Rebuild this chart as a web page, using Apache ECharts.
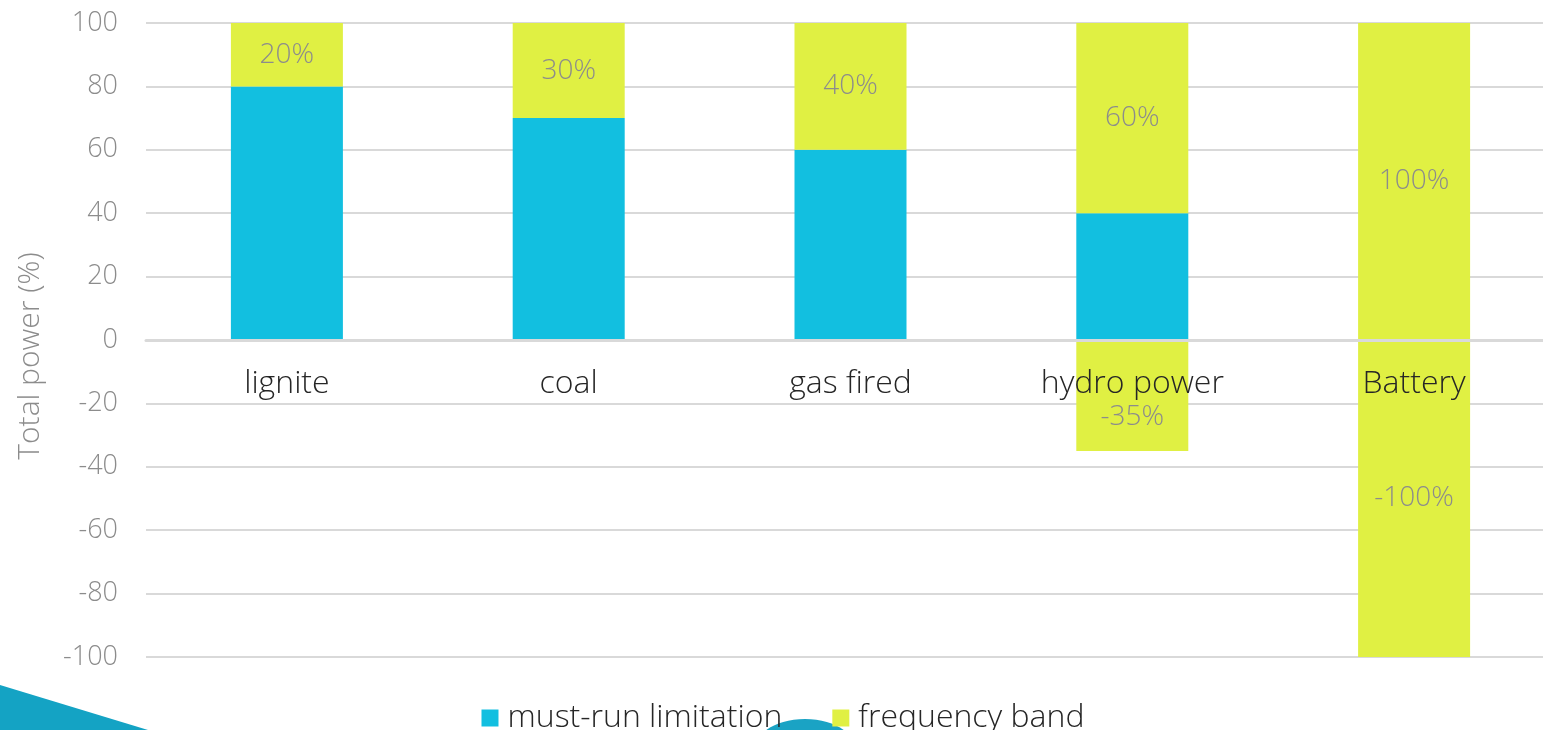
<!DOCTYPE html>
<html>
<head>
<meta charset="utf-8">
<script src="https://cdn.jsdelivr.net/npm/echarts@6/dist/echarts.min.js"></script>
<style>
html,body{margin:0;padding:0;background:#fff;overflow:hidden;}
#c{width:1566px;height:730px;}
</style>
</head>
<body>
<div id="c"></div>
<script>
const categories = ['lignite', 'coal', 'gas fired', 'hydro power', 'Battery'];
const mustRun = [80, 70, 60, 40, null];
const freqBandUp = [20, 30, 40, 60, 100];
const freqBandDown = [null, null, null, -35, -100];
const yTicks = {min: -100, max: 100, interval: 20};

const FONT = "'Open Sans', 'Lato', sans-serif";
const CYAN = '#12BFE0';
const LIME = '#E0F043';
const labelStyle = {
  show: true, position: 'inside', color: '#8c8c8c', fontSize: 28,
  fontFamily: FONT, fontWeight: 300,
  formatter: p => p.value + '%'
};

const chart = echarts.init(document.getElementById('c'), null, {renderer: 'canvas'});
chart.setOption({
  animation: false,
  backgroundColor: '#fff',
  textStyle: {fontFamily: FONT},
  graphic: [
    {type: 'polygon', z: -10, shape: {points: [[0, 685], [148, 730], [0, 730]]},
     style: {fill: '#14A3C4'}},
    {type: 'ellipse', z: -10, shape: {cx: 805, cy: 749, rx: 50, ry: 30},
     style: {fill: '#1AA3C4'}}
  ],
  grid: {left: 146, top: 23, right: 11, bottom: 73, containLabel: false},
  legend: {
    top: 697, left: 'center', itemWidth: 17, itemHeight: 17, itemGap: 50,
    icon: 'rect',
    textStyle: {fontSize: 32, color: '#262626', fontFamily: FONT, fontWeight: 300,
                padding: [0, 0, 0, 4]},
    data: ['must-run limitation', 'frequency band']
  },
  xAxis: {
    type: 'category', data: categories, z: 10,
    axisLine: {onZero: true, lineStyle: {color: '#d9d9d9', width: 3}},
    axisTick: {show: false},
    axisLabel: {color: '#262626', fontSize: 32, fontFamily: FONT, fontWeight: 300, margin: -289}
  },
  yAxis: {
    type: 'value', min: yTicks.min, max: yTicks.max, interval: yTicks.interval,
    name: 'Total power (%)', nameLocation: 'middle', nameGap: 101, nameRotate: 90,
    nameTextStyle: {color: '#8c8c8c', fontSize: 30, fontFamily: FONT, fontWeight: 300,
                    padding: [0, 32, 0, 0]},
    axisLine: {show: false}, axisTick: {show: false},
    axisLabel: {color: '#8c8c8c', fontSize: 27, fontFamily: FONT, fontWeight: 300, margin: 28},
    splitLine: {lineStyle: {color: '#d9d9d9', width: 2}}
  },
  series: [
    {name: 'must-run limitation', type: 'bar', stack: 's', data: mustRun,
     barWidth: 112, itemStyle: {color: CYAN}},
    {name: 'frequency band', type: 'bar', stack: 's', data: freqBandUp,
     barWidth: 112, itemStyle: {color: LIME}, label: labelStyle},
    {name: 'frequency band', type: 'bar', stack: 's',
     data: freqBandDown.map(v => (v === -35 ? {value: v, label: {offset: [0, 22]}} : v)),
     barWidth: 112, itemStyle: {color: LIME}, label: labelStyle}
  ]
});
</script>
</body>
</html>
